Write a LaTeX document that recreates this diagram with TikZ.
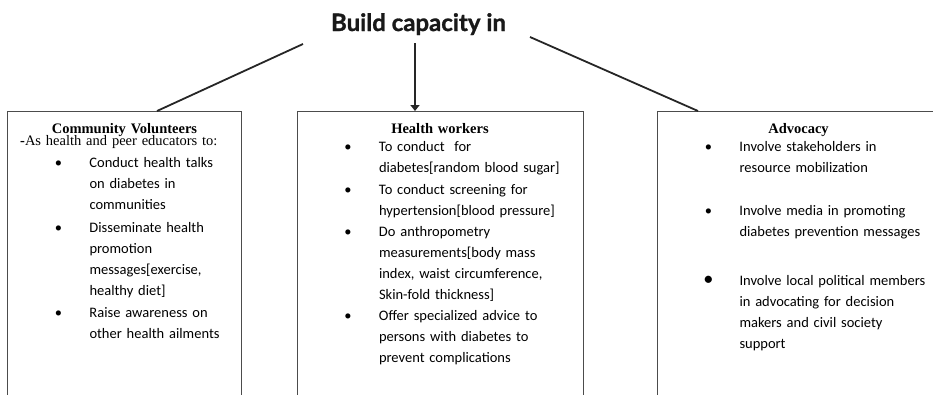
\documentclass[tikz,border=0pt]{standalone}
\usepackage{fontspec}
\setmainfont{Liberation Serif}
\newfontfamily\titlefont{Lato}[BoldFeatures={FakeBold=1.2}]
\newfontfamily\bodyfont{Carlito}
\usetikzlibrary{positioning,arrows.meta}

% bullet item with hanging indent; optional arg = extra space above
\newcommand{\dotmark}{\textbullet}
\newcommand{\bitem}[2][1pt]{\par\vspace{#1}\noindent\hangindent=69.3pt\hangafter=1
  \hspace*{38.3pt}\makebox[0pt]{\dotmark}\hspace*{31pt}#2}
\newcommand{\boxhead}[1]{{\centering\rmfamily\bfseries #1\par}}

\begin{document}
\begin{tikzpicture}[
    x=1pt, y=1pt,
    box/.style={draw=black!70, line width=1pt,
      anchor=north west, align=left,
      inner xsep=12.7pt, inner ysep=10pt, outer sep=0pt,
      text height=12.5pt, text depth=300pt,
      font=\bodyfont\fontsize{14.5}{21}\selectfont},
    link/.style={draw=black!85, line width=1.8pt}]
    \useasboundingbox (0,0) rectangle (933,-394);
    \clip (0,0) rectangle (933,-394);

    \node[font=\titlefont\bfseries\fontsize{24}{28}\selectfont, text=black!90,
      inner sep=0pt, anchor=base] (title) at (418.5,-31) {Build capacity in};

    \node[box, text width=208.6pt] (cv) at (7.5,-111) {%
      \boxhead{Community Volunteers}
      \vspace{-9pt}\noindent{\rmfamily\textbf{-}As health and peer educators to:}
      \bitem[1.3pt]{Conduct health talks\newline on diabetes in\newline communities}
      \bitem[1.7pt]{Disseminate health\newline promotion\newline messages[exercise,\newline healthy diet]}
      \bitem{Raise awareness on\newline other health ailments}\par};

    \node[box, text width=260.6pt] (hw) at (297,-111) {%
      \boxhead{Health workers}
      \bitem[-2.6pt]{To conduct~ for\newline diabetes[random blood sugar]}
      \bitem[0.3pt]{To conduct screening for\newline hypertension[blood pressure]}
      \bitem[0.7pt]{Do anthropometry\newline measurements[body mass\newline index, waist circumference,\newline Skin-fold thickness]}
      \bitem[0pt]{Offer specialized advice to\newline persons with diabetes to\newline prevent complications}\par};

    \node[box, text width=256.6pt] (adv) at (657.5,-111) {%
      \boxhead{Advocacy}
      \bitem[-2.6pt]{Involve stakeholders in\newline resource mobilization}
      \bitem[21.3pt]{Involve media in promoting\newline diabetes prevention messages}
      \renewcommand{\dotmark}{\scalebox{1.4}{\textbullet}}%
      \bitem[28pt]{Involve local political members\newline in advocating for decision\newline makers and civil society\newline support}\par};

    \coordinate (cvFrom) at (303,-44);
    \coordinate (hwFrom) at (415,-43);
    \coordinate (advFrom) at (530,-37);

    \draw[link] (cvFrom) -- ([xshift=149.5pt]cv.north west);
    \draw[link, -{Triangle[width=9pt,length=6pt]}] (hwFrom) -- ([xshift=118pt]hw.north west);
    \draw[link] (advFrom) -- ([xshift=40.5pt]adv.north west);
\end{tikzpicture}
\end{document}
